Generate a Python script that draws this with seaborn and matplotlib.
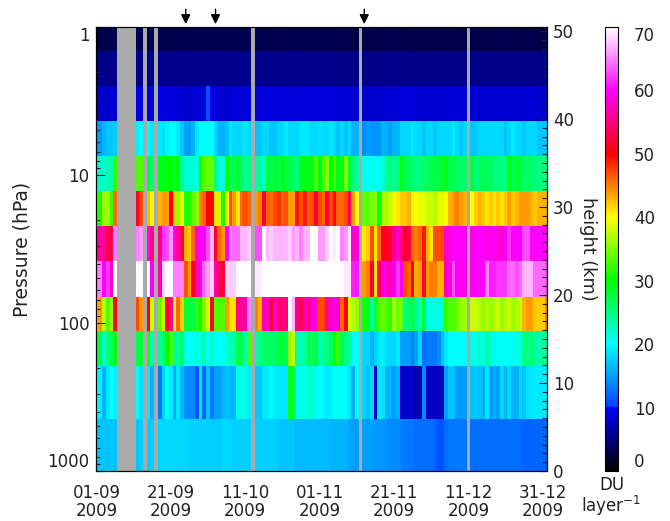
import numpy as np
import pandas as pd
import matplotlib
matplotlib.use("Agg")
import matplotlib.pyplot as plt
import seaborn as sns
from matplotlib.colors import LinearSegmentedColormap
from matplotlib.ticker import LogLocator, MultipleLocator, NullFormatter, FixedLocator

n = np.nan

# layer edges in hPa, top of the atmosphere first
layer_edges_hpa = [1.0, 1.45, 2.5, 4.3, 7.4, 12.8, 22.0, 38.0, 67.0, 113.0, 195.0, 445.0, 1000.0]
date_labels = ["01-09\n2009", "21-09\n2009", "11-10\n2009", "01-11\n2009", "21-11\n2009", "11-12\n2009", "31-12\n2009"]
pressure_ticks = [1, 10, 100, 1000]
arrow_days = [24, 32, 72]

# ozone per layer (DU/layer), one value per day from 1 Sep to 31 Dec, nan = no data
layer_01 = [3.0, 3.0, 3.1, 3.1, 3.1, 3.1, n, n, n, n,
            n, 3.2, 3.2, n, 3.2, 3.1, n, 3.1, 3.1, 3.2,
            3.2, 3.2, 3.2, 3.1, 3.2, 3.2, 3.2, 3.2, 3.3, 3.4,
            3.3, 3.3, 3.4, 3.4, 3.3, 3.3, 3.3, 3.2, 3.2, 3.2,
            3.2, 3.3, n, 3.2, 3.2, 3.2, 3.1, 3.1, 3.1, 3.1,
            3.1, 3.1, 3.1, 3.2, 3.2, 3.2, 3.2, 3.2, 3.2, 3.1,
            3.1, 3.1, 3.2, 3.2, 3.2, 3.1, 3.1, 3.1, 3.1, 3.1,
            3.0, n, 3.0, 3.0, 3.0, 3.0, 3.1, 3.1, 3.1, 3.1,
            3.1, 3.1, 3.1, 3.1, 3.0, 3.0, 3.0, 3.0, 3.0, 3.0,
            3.0, 3.0, 3.0, 3.0, 3.0, 3.0, 3.0, 3.1, 3.1, 3.0,
            n, 3.0, 3.0, 3.0, 3.0, 3.0, 3.0, 3.1, 3.1, 3.1,
            3.1, 3.1, 3.1, 3.0, 3.0, 3.1, 3.1, 3.1, 3.0, 3.0,
            3.0, 3.0]
layer_02 = [5.3, 5.3, 5.4, 5.4, 5.4, 5.4, n, n, n, n,
            n, 5.6, 5.6, n, 5.6, 5.5, n, 5.5, 5.5, 5.6,
            5.6, 5.6, 5.6, 5.5, 5.5, 5.5, 5.5, 5.5, 5.5, 5.6,
            5.6, 5.6, 5.6, 5.6, 5.5, 5.5, 5.5, 5.5, 5.5, 5.5,
            5.5, 5.5, n, 5.5, 5.5, 5.5, 5.5, 5.5, 5.5, 5.5,
            5.5, 5.5, 5.5, 5.5, 5.5, 5.5, 5.5, 5.5, 5.5, 5.4,
            5.4, 5.4, 5.5, 5.5, 5.5, 5.4, 5.4, 5.4, 5.4, 5.4,
            5.4, n, 5.4, 5.4, 5.4, 5.4, 5.4, 5.4, 5.4, 5.5,
            5.5, 5.5, 5.5, 5.5, 5.4, 5.4, 5.4, 5.4, 5.4, 5.4,
            5.4, 5.4, 5.4, 5.4, 5.4, 5.4, 5.4, 5.4, 5.4, 5.4,
            n, 5.4, 5.4, 5.4, 5.4, 5.4, 5.4, 5.4, 5.4, 5.4,
            5.4, 5.4, 5.4, 5.4, 5.4, 5.4, 5.4, 5.4, 5.4, 5.4,
            5.4, 5.4]
layer_03 = [8.0, 8.0, 8.1, 8.1, 8.0, 8.0, n, n, n, n,
            n, 9.0, 9.0, n, 9.0, 8.8, n, 8.8, 8.8, 9.0,
            9.0, 8.8, 8.6, 8.3, 8.2, 8.2, 8.4, 8.4, 8.6, 8.8,
            11.0, 9.2, 8.6, 8.4, 8.3, 8.3, 8.4, 8.6, 8.6, 8.6,
            8.6, 8.6, n, 8.7, 8.7, 8.7, 8.6, 8.6, 8.6, 8.7,
            8.7, 8.6, 8.6, 8.6, 8.6, 8.6, 8.5, 8.5, 8.5, 8.5,
            8.5, 8.5, 8.5, 8.5, 8.4, 8.4, 8.4, 8.4, 8.4, 8.3,
            8.2, n, 8.2, 8.2, 8.2, 8.2, 8.3, 8.3, 8.4, 8.4,
            8.4, 8.4, 8.5, 8.6, 8.5, 8.4, 8.4, 8.4, 8.3, 8.3,
            8.3, 8.3, 8.4, 8.4, 8.4, 8.4, 8.4, 8.4, 8.4, 8.4,
            n, 8.3, 8.3, 8.3, 8.3, 8.3, 8.3, 8.3, 8.3, 8.3,
            8.3, 8.3, 8.3, 8.3, 8.3, 8.3, 8.3, 8.3, 8.3, 8.3,
            8.3, 8.3]
layer_04 = [15, 15, 16, 17, 17, 17.5, n, n, n, n,
            n, 19.5, 20, n, 20, 19, n, 19, 18.5, 19.5,
            20, 20, 19, 17, 15, 15, 16, 19, 20, 20,
            20, 20, 18, 16, 16, 17, 19, 18, 18, 18,
            19, 18, n, 17, 17, 18, 18, 17, 17, 18,
            18, 19, 18, 18, 18, 19, 19, 19, 18, 18,
            18.5, 18, 18, 19, 18, 17, 18, 17, 18, 16,
            16, n, 14, 15, 14.5, 14.5, 14.5, 16, 16, 15,
            16, 16, 18, 18, 18, 19, 18, 18, 17, 18,
            18, 17, 18, 18, 18, 18, 19, 18, 17, 18,
            n, 17, 17, 18, 18, 18, 18, 18, 18, 18,
            17, 18, 19, 18, 18, 17, 18, 18, 18, 17,
            17, 17]
layer_05 = [21.5, 22, 22, 23, 23, 32, n, n, n, n,
            n, 33, 33, n, 28, 26, n, 29, 29, 30,
            30, 28, 30, 24, 21.5, 21.5, 21.5, 21.5, 31, 33,
            34, 34, 25, 21, 21.5, 30, 26, 27, 28, 26,
            24, 25, n, 24, 24, 22, 28, 27, 28, 27,
            30, 28, 27, 26, 25, 29, 29, 29, 29, 33,
            29, 33, 35, 30, 33, 29, 29, 35, 28, 25,
            24, n, 20.5, 20.5, 20.5, 20.5, 20.5, 22, 24, 25,
            24, 25, 29, 27, 26, 26, 25, 25, 26, 26,
            27, 27, 28, 28, 29, 27, 27, 26, 26, 26,
            n, 28, 25, 26, 27, 26, 26, 25, 25, 25,
            25, 29, 27, 28, 28, 26, 26, 26, 25, 25,
            25, 25]
layer_06 = [33, 31, 36, 36, 32, 46, n, n, n, n,
            n, 51, 47, n, 43, 39, n, 43, 44, 44,
            50, 42, 36, 39, 31, 31, 34, 36, 45, 46,
            50, 50, 41, 38, 31, 40, 47, 44, 41, 46,
            47, 46, n, 44, 45, 52, 46, 46, 47, 48,
            46, 47, 44, 44, 49, 47, 49, 46, 47, 52,
            47, 46, 52, 47, 52, 46, 46, 47, 53, 44,
            40, n, 34, 33, 35, 35, 30, 37, 36, 38,
            39, 41, 42, 42, 43, 40, 40, 39, 39, 38,
            38, 37, 39, 39, 40, 43, 44, 45, 44, 43,
            n, 40, 42, 43, 42, 41, 42, 41, 42, 41,
            42, 44, 42, 43, 44, 44, 44, 43, 42, 43,
            43, 43]
layer_07 = [56, 56, 56, 53, 53, 65, n, n, n, n,
            n, 65, 66, n, 60, 55, n, 55, 62, 63,
            66, 60, 56, 53, 43, 42, 46, 59, 59, 60,
            63, 67, 52, 46, 44, 60, 65, 64, 64, 67,
            67, 68, n, 63, 63, 70, 67, 68, 67, 67,
            67, 67, 68, 66, 67, 65, 67, 67, 70, 70,
            66, 66, 68, 70, 69, 70, 65, 66, 69, 58,
            58, n, 41, 42, 47, 41, 46, 51, 51, 52,
            55, 58, 55, 51, 53, 46, 45, 46, 49, 43,
            41, 47, 47, 47, 58, 59, 60, 60, 60, 60,
            n, 59, 60, 60, 60, 59, 60, 59, 59, 58,
            60, 62, 60, 60, 60, 63, 63, 60, 60, 60,
            60, 60]
layer_08 = [65, 65, 60, 62, 58, 70, n, n, n, n,
            n, 70, 70, n, 70, 60, n, 57, 68, 70,
            70, 65, 65, 65, 47, 44, 51, 58, 59, 64,
            66, 68, 57, 53, 52, 68, 68, 68, 70, 70,
            70, 70, n, 69, 69, 70, 70, 70, 70, 70,
            70, 70, 70, 70, 70, 70, 70, 70, 70, 70,
            70, 70, 70, 70, 70, 70, 70, 69, 69, 61,
            61, n, 44, 45, 52, 41, 54, 59, 58, 57,
            59, 62, 59, 47, 46, 51, 43, 44, 52, 44,
            45, 45, 43, 43, 57, 59, 63, 60, 59, 59,
            n, 59, 60, 60, 60, 65, 61, 61, 62, 62,
            62, 64, 64, 63, 64, 67, 67, 67, 64, 64,
            64, 63]
layer_09 = [42, 44, 37, 33, 36, 50, n, n, n, n,
            n, 47, 44, n, 50, 38, n, 34, 38, 52,
            56, 39, 46, 42, 28, 28, 27, 32, 30, 35,
            38, 52, 33, 33, 33, 44, 41, 41, 55, 56,
            56, 65, n, 45, 43, 57, 58, 52, 58, 54,
            55, 55, 70, 67, 55, 53, 57, 54, 58, 59,
            47, 47, 56, 58, 59, 58, 46, 50, 38, 37,
            36, n, 31, 29, 24, 28, 33, 34, 33, 32,
            36, 34, 34, 25, 26, 28, 25, 23, 28, 21,
            21, 21, 21, 22, 32, 33, 33, 34, 36, 36,
            n, 38, 38, 37, 36, 37, 36, 37, 38, 36,
            37, 38, 36, 37, 38, 43, 44, 44, 42, 42,
            42, 45]
layer_10 = [27, 27, 22, 25, 27, 29, n, n, n, n,
            n, 27, 28, n, 31, 23, n, 24, 26, 30,
            33, 24, 24, 26, 20.5, 20.5, 20.5, 21, 21, 23,
            20.5, 22, 20, 20, 20, 22, 23, 23, 27, 27,
            23, 33, n, 24, 24, 26, 26, 26, 26, 28,
            28, 27, 36, 38, 23, 23, 24, 28, 26, 28,
            23, 24, 25, 27, 29, 32, 27, 25, 24, 20,
            20, n, 18, 18, 16, 17.5, 19, 19.5, 18, 18,
            18, 19, 15, 15, 15, 13, 15, 18, 12.5, 13,
            13, 13, 14, 17, 19, 20, 20, 20, 20, 20,
            n, 21, 21, 22, 21, 24, 21, 21, 20.5, 20.5,
            20.5, 20.5, 20.5, 21, 21, 25, 25, 25, 24, 23,
            24, 24]
layer_11 = [20, 19.5, 16, 19, 20, 19.5, n, n, n, n,
            n, 20, 18, n, 19, 16, n, 13, 18, 20,
            19, 15, 19, 16.5, 14, 14, 14, 11, 19, 12,
            17, 13, 15, 15, 16, 17, 16, 16, 21, 21,
            21, 19, n, 17, 17, 19, 19, 20, 19, 19,
            19, 19, 29, 28, 20, 21, 21, 22, 22, 21,
            20, 19.5, 19, 19.5, 20, 20, 20, 20, 19, 15.5,
            20, n, 18, 17, 18, 8, 19, 18.5, 16, 16,
            15, 16, 8, 8, 8, 8.5, 6.7, 6.9, 14, 8,
            7.8, 7.6, 7.8, 8, 15, 17, 17, 15, 15, 15,
            n, 17, 17, 17, 16, 19, 15, 16, 15, 18,
            16, 18, 16, 16, 18, 17, 18.5, 19, 19, 19,
            19, 19]
layer_12 = [17, 17, 17, 17, 17, 17, n, n, n, n,
            n, 17, 17.5, n, 17.5, 17.5, n, 18, 18, 18,
            18, 18, 18, 18, 18, 17.5, 17.5, 17.5, 17.5, 17.5,
            17.5, 17.5, 17.5, 17.5, 18, 18, 18, 17.5, 17.5, 17.5,
            17.5, 17.5, n, 17.5, 17.5, 17.5, 17.5, 17.5, 17.5, 17,
            17, 17, 17, 17, 16.5, 16.5, 16.5, 16.5, 16.5, 16.5,
            16.5, 16.5, 16.5, 16, 16, 16, 16, 16, 15.5, 15,
            15, n, 15, 15, 15, 14.5, 14.5, 14.5, 14.5, 14,
            14, 14, 13.5, 13, 13, 13, 12.5, 12.5, 12.5, 12.5,
            12.5, 12, 11, 11, 12.5, 13, 13, 13, 13, 13,
            n, 12.5, 12.5, 12.5, 12.5, 12.5, 12.5, 12.5, 12.5, 12.5,
            12.5, 12.5, 12.5, 12.5, 12.5, 12, 12, 12, 12, 12,
            12, 12]

layers = [layer_01, layer_02, layer_03, layer_04, layer_05, layer_06,
          layer_07, layer_08, layer_09, layer_10, layer_11, layer_12]

INK = "#222222"
sns.set_theme(style="ticks", rc={"axes.edgecolor": "black", "axes.linewidth": 0.8, "xtick.color": INK,
                                 "ytick.color": INK, "xtick.labelcolor": INK, "ytick.labelcolor": INK,
                                 "text.color": INK, "axes.labelcolor": INK})
plt.rcParams["font.family"] = ["DejaVu Sans"]
FS = 12

# rainbow that ends in black at the bottom and white at the top
stops = [(0, "#000000"), (10, "#0000ff"), (10.05, "#0040ff"), (20, "#00ffff"), (30, "#00ff00"),
         (40, "#ffff00"), (50, "#ff0000"), (60, "#ff00ff"), (70, "#ffffff")]
cmap = LinearSegmentedColormap.from_list("o3", [(v / 70, c) for v, c in stops], N=512)
cmap.set_bad("#aaaaaa")

W, H = 670, 521
fig = plt.figure(figsize=(W / 100, H / 100), dpi=100)
ax = fig.add_axes([96.5 / W, 1 - 471 / H, 450 / W, 444 / H])
cax = fig.add_axes([605 / W, 1 - 471 / H, 13 / W, 444 / H])

table = pd.DataFrame(layers)
sns.heatmap(table, ax=ax, cbar_ax=cax, cmap=cmap, vmin=0, vmax=70, xticklabels=False, yticklabels=False)

# rows have different thickness: row number -> log pressure
log_edges = np.log10(layer_edges_hpa)
rows = np.arange(len(log_edges))
ax.set_yscale("function", functions=(lambda r: np.interp(r, rows, log_edges),
                                     lambda p: np.interp(p, log_edges, rows)))
ax.set_ylim(len(layers), 0)
ax.yaxis.set_major_locator(FixedLocator([]))
ax.yaxis.set_minor_locator(FixedLocator([]))

# each day's column is centred on its date tick
days = table.shape[1]
ax.set_xlim(0.5, days - 0.5)
ax.set_xticks(np.arange(0, days, 20) + 0.5)
ax.set_xticklabels(date_labels, fontsize=FS, linespacing=1.0)
ax.set_xticks(np.arange(0, days, 2) + 0.5, minor=True)
ax.tick_params(axis="x", which="major", direction="in", top=True, length=5.8, width=0.8, pad=9)
ax.tick_params(axis="x", which="minor", direction="in", top=True, length=2.9, width=0.8)
ax.tick_params(axis="y", left=False, right=False)

# left axis, pressure
ax_p = ax.twinx()
ax_p.set_yscale("log")
ax_p.set_ylim(1000, 1)
ax_p.yaxis.tick_left()
ax_p.yaxis.set_label_position("left")
ax_p.yaxis.set_major_locator(FixedLocator(pressure_ticks))
ax_p.yaxis.set_major_formatter(lambda v, pos: f"{v:.0f}")
ax_p.yaxis.set_minor_locator(LogLocator(base=10, subs=range(2, 10)))
ax_p.yaxis.set_minor_formatter(NullFormatter())
ax_p.tick_params(axis="y", which="major", direction="in", length=6.5, width=0.8, pad=5, labelsize=FS)
ax_p.tick_params(axis="y", which="minor", direction="in", length=2.9, width=0.8)
ax_p.set_ylabel("Pressure (hPa)", fontsize=13.5)
ax_p.yaxis.set_label_coords(-0.145, 0.5)

# right axis, height
ax_h = ax.twinx()
ax_h.set_ylim(0, 50.45)
ax_h.yaxis.set_major_locator(MultipleLocator(10))
ax_h.yaxis.set_minor_locator(MultipleLocator(1))
ax_h.tick_params(axis="y", which="major", direction="in", length=5.8, width=0.8, pad=4.5, labelsize=FS)
ax_h.tick_params(axis="y", which="minor", direction="in", length=3.6, width=0.8)
ax_h.set_ylabel("height (km)", fontsize=12.8, rotation=270, va="center")
ax_h.yaxis.set_label_coords(1.092, 0.5)

# colour bar
cbar = ax.collections[0].colorbar
cbar.outline.set_linewidth(0.8)
cbar.outline.set_edgecolor("black")
cbar.set_ticks(np.arange(0, 71, 10))
cax.tick_params(direction="in", length=2.2, width=0.8, pad=11.5, labelsize=FS, right=True)
cax.text(0.5, -0.012, "DU\nlayer$^{-1}$", transform=cax.transAxes, ha="center", va="top", fontsize=FS, linespacing=1.0)

# end labels sit inside the axis range
fig.canvas.draw()
for axis_obj, first, last in [(ax_p.yaxis, "top", "bottom"), (cax.yaxis, "bottom", "top")]:
    labels = axis_obj.get_ticklabels()
    labels[0].set_va(first)
    labels[-1].set_va(last)
ax_h.yaxis.get_ticklabels()[0].set_va("bottom")

# arrows above the panel
for day in arrow_days:
    ax.annotate("", xy=(day + 0.5, 1.0065), xycoords=ax.get_xaxis_transform(),
                xytext=(day + 0.5, 1.04), textcoords=ax.get_xaxis_transform(),
                arrowprops=dict(arrowstyle="-|>", color="black", lw=1, mutation_scale=14, shrinkA=0, shrinkB=0))

fig.savefig("out.png", dpi=100)
plt.close(fig)
